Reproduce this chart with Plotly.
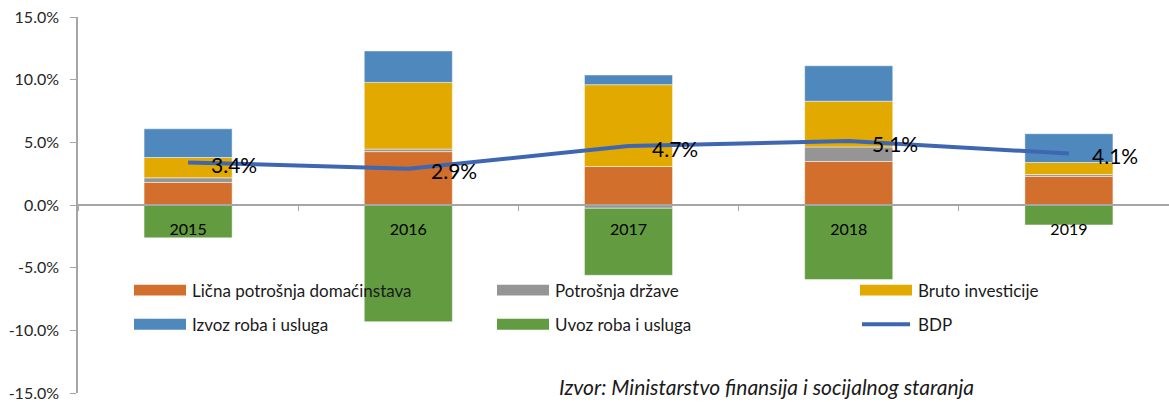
import plotly.graph_objects as go

# ---- data ----
years = ["2015", "2016", "2017", "2018", "2019"]
licna_potrosnja = [1.80, 4.26, 3.07, 3.47, 2.28]
potrosnja_drzave = [0.37, 0.20, -0.26, 1.16, 0.15]
bruto_investicije = [1.62, 5.32, 6.53, 3.65, 0.96]
izvoz = [2.29, 2.51, 0.77, 2.83, 2.30]
uvoz = [-2.62, -9.31, -5.35, -5.95, -1.59]
bdp = [3.4, 2.9, 4.7, 5.1, 4.1]

series_names = ["Lična potrošnja domaćinstava", "Potrošnja države", "Bruto investicije",
                "Izvoz roba i usluga", "Uvoz roba i usluga", "BDP"]
series_colors = ["#D36F2C", "#959595", "#E2AA00", "#4F88BD", "#629B40", "#3F66B1"]
y_ticks = [-15, -10, -5, 0, 5, 10, 15]
y_tick_labels = [f"{t:.1f}%" for t in y_ticks]
source_text = "Izvor: Ministarstvo finansija i socijalnog staranja"

FONT = "Lato"
W, H = 1169, 402
ML, MR, MT, MB = 78, 0, 17, 6

fig = go.Figure()
bar_values = [licna_potrosnja, potrosnja_drzave, bruto_investicije, izvoz, uvoz]
for name, vals, col in zip(series_names[:5], bar_values, series_colors[:5]):
    fig.add_trace(go.Bar(
        x=years, y=vals, name=name, width=0.4,
        marker=dict(color=col, line=dict(color="rgba(255,255,255,0.6)", width=0.8)),
        showlegend=False, hoverinfo="skip"))

fig.add_trace(go.Scatter(
    x=years, y=bdp, name=series_names[5], mode="lines",
    line=dict(color=series_colors[5], width=4), showlegend=False))

# data labels for BDP
for i, v in enumerate(bdp):
    fig.add_annotation(x=i, y=v, xref="x", yref="y", text=f"{v:.1f}%", showarrow=False,
                       xanchor="left", yanchor="middle", xshift=21, yshift=-2,
                       font=dict(family=FONT, size=21, color="#000000"))

# ---- custom legend ----
plot_w = W - ML - MR
plot_h = H - MT - MB

def px_x(p):
    return (p - ML) / plot_w

def px_y(p):
    return (H - MB - p) / plot_h

col_x = [134, 497, 860]
row_y = [292.3, 326.7]
for i, (name, col) in enumerate(zip(series_names, series_colors)):
    cx = col_x[i % 3]
    cy = row_y[i // 3]
    if name == "BDP":
        fig.add_shape(type="line", xref="paper", yref="paper",
                      x0=px_x(cx + 2), x1=px_x(cx + 50), y0=px_y(cy), y1=px_y(cy),
                      line=dict(color=col, width=4))
    else:
        fig.add_shape(type="rect", xref="paper", yref="paper",
                      x0=px_x(cx), x1=px_x(cx + 52), y0=px_y(cy - 5.5), y1=px_y(cy + 5.5),
                      fillcolor=col, line=dict(width=0))
    fig.add_annotation(xref="paper", yref="paper", x=px_x(cx + 56), y=px_y(cy),
                       text=name, showarrow=False, xanchor="left", yanchor="middle",
                       font=dict(family=FONT, size=17, color="#1a1a1a"))

fig.add_annotation(xref="paper", yref="paper", x=px_x(557), y=px_y(389),
                   text=f"<i>{source_text}</i>", showarrow=False,
                   xanchor="left", yanchor="middle",
                   font=dict(family=FONT, size=21, color="#1a1a1a"))

fig.update_layout(
    width=W, height=H,
    margin=dict(l=ML, r=MR, t=MT, b=MB),
    barmode="relative", bargap=0.6,
    plot_bgcolor="white", paper_bgcolor="white",
    font=dict(family=FONT, size=16, color="#262626"),
    xaxis=dict(type="category", range=[-0.5, 4.5 - 10 / 220],
               anchor="free", position=0.5,
               showline=True, linecolor="#A6A6A6", linewidth=1.5,
               ticks="outside", tickson="boundaries", ticklen=5, tickcolor="#A6A6A6",
               showgrid=False, zeroline=False, ticklabelstandoff=10,
               tickfont=dict(family=FONT, size=16, color="#000000")),
    yaxis=dict(range=[-15, 15], tickvals=y_ticks, ticktext=y_tick_labels,
               showline=True, linecolor="#A6A6A6", linewidth=1.5,
               ticks="outside", ticklen=6, tickcolor="#A6A6A6",
               showgrid=False, zeroline=False, ticklabelstandoff=8,
               ticklabeloverflow="allow",
               tickfont=dict(family=FONT, size=16, color="#262626")),
)

fig.write_html("out.html", config={"displayModeBar": False},
               post_script="document.body.style.margin='0';")
